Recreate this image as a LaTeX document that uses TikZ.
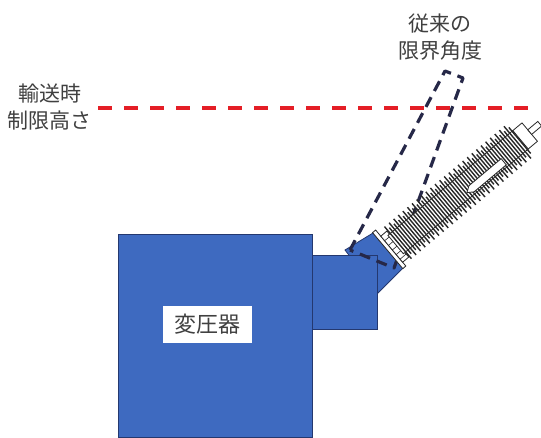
\documentclass[tikz,border=0pt]{standalone}
\usepackage{fontspec}
\newfontfamily\jp{Noto Sans CJK JP}
\definecolor{tankblue}{RGB}{62,106,192}
\definecolor{tankedge}{RGB}{36,56,111}
\definecolor{limitred}{RGB}{228,30,38}
\definecolor{oldline}{RGB}{38,40,72}
\definecolor{porcelain}{RGB}{40,40,40}
\definecolor{labeltext}{RGB}{64,64,64}

\begin{document}
\begin{tikzpicture}[x=1pt,y=-1pt,
  tank/.style={fill=tankblue,draw=tankedge,line width=0.8pt},
  oldoutline/.style={draw=oldline,line width=3.2pt,dash pattern=on 11pt off 7pt,line join=round},
  heightline/.style={draw=limitred,line width=3.8pt,dash pattern=on 13.5pt off 12.5pt},
  caption/.style={font=\jp\fontsize{21}{27}\selectfont,text=labeltext,align=center,inner sep=0pt},
  shed/.style={draw=porcelain,line width=1.4pt},
  fitting/.style={fill=white,draw=porcelain,line width=0.8pt}]
\path[use as bounding box,fill=white] (0,0) rectangle (541,437);

% transport height limit
\coordinate (hL) at (98,108);
\coordinate (hR) at (528,108);
\draw[heightline] (hL) -- (hR);

% transformer tank
\draw[tank] (118,234) rectangle (312,437);
\node[caption,fill=white,minimum width=89pt,minimum height=37pt,
      font=\jp\fontsize{22}{26}\selectfont] (tlabel) at (207.5,324.5) {変圧器};

% bushing elbow and turret
\draw[tank] (345,250) -- (373,233) -- (403,268) -- (378,293) -- cycle;
\draw[tank] (312,255) rectangle (377,329);

% former limit angle outline
\coordinate (o1) at (350,250);
\coordinate (o2) at (445,71);
\coordinate (o3) at (463,78);
\coordinate (o4) at (394,268);
\draw[oldoutline] (o1) -- (o2) -- (o3) -- (o4) -- cycle;

% bushing
\begin{scope}[shift={(388,251)},rotate=40]
  \draw[fitting] (0,-24) rectangle (4,23);
  \draw[fitting] (4,-16) rectangle (12,18);
  \foreach \v in {-10,-4,2,8,14} \draw[porcelain,line width=0.6pt] (4,\v) -- (12,\v);
  \draw[fitting] (10,-12) rectangle (173,12);
  \foreach \i in {0,...,53} {
    \pgfmathsetmacro\u{13+3*\i}
    \pgfmathsetmacro\h{mod(\i,2)==0 ? 21 : 17}
    \draw[shed] (\u,-\h) -- (\u,\h);
  }
  \draw[fitting] (98,6) -- (104,2) -- (146,2) -- (146,10) -- (104,10) -- cycle;
  \draw[fitting] (173,-12) rectangle (185,12);
  \draw[fitting] (185,-3) rectangle (198,3);
\end{scope}

% captions
\node[caption] (oldangle) at (440,37) {従来の\\限界角度};
\node[caption] (transport) at (50,107) {輸送時\\制限高さ};
\end{tikzpicture}
\end{document}
